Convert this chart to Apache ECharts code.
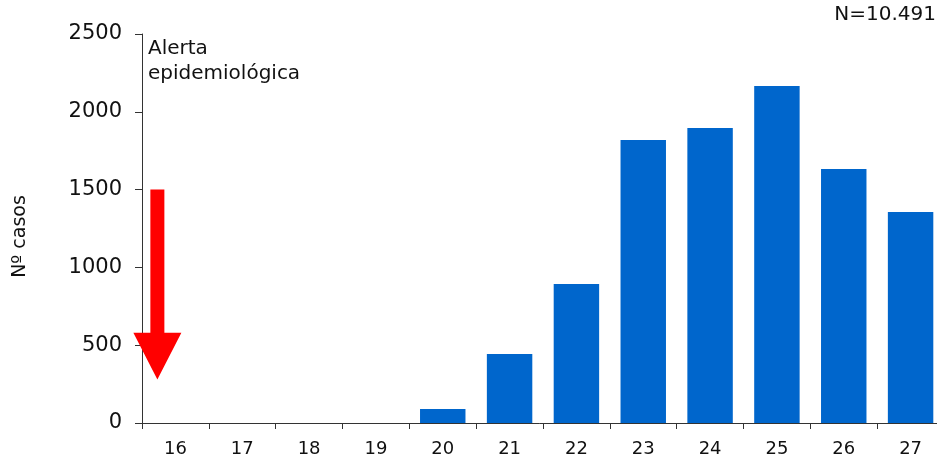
<!DOCTYPE html>
<html>
<head>
<meta charset="utf-8">
<script src="https://cdn.jsdelivr.net/npm/echarts@6/dist/echarts.min.js"></script>
<style>
html,body{margin:0;padding:0;background:#fff;}
#chart{width:937px;height:464px;}
</style>
</head>
<body>
<div id="chart"></div>
<script>
var categories = ['16','17','18','19','20','21','22','23','24','25','26','27'];
var casos = [0, 0, 0, 0, 90, 443, 893, 1819, 1896, 2166, 1632, 1356];
var yTicks = [0, 500, 1000, 1500, 2000, 2500];
// arrow: category index, shaft top, head base, tip
var arrowData = [[0, 1500, 580, 280]];
var alertText = 'Alerta\nepidemiológica';
var totalText = 'N=10.491';
var yName = 'Nº casos';

var FONT = 'DejaVu Sans';
var chart = echarts.init(document.getElementById('chart'), null, {renderer: 'canvas'});
chart.setOption({
  animation: false,
  backgroundColor: '#ffffff',
  textStyle: {fontFamily: FONT},
  title: [{
    text: totalText,
    right: 1, top: 5, padding: 0,
    textStyle: {fontFamily: FONT, fontSize: 20, fontWeight: 'normal', color: '#111'}
  }, {
    text: alertText,
    left: 148, top: 36, padding: 0,
    textStyle: {fontFamily: FONT, fontSize: 20, fontWeight: 'normal', color: '#111', lineHeight: 25}
  }],
  grid: {left: 142, width: 802, top: 34, bottom: 41, containLabel: false, outerBoundsMode: 'none'},
  xAxis: {
    type: 'category',
    data: categories,
    boundaryGap: true,
    axisLine: {show: true, lineStyle: {color: '#333', width: 1}},
    axisTick: {show: true, length: 6, alignWithLabel: false, lineStyle: {color: '#333'}},
    axisLabel: {fontFamily: FONT, fontSize: 18, color: '#111', margin: 17}
  },
  yAxis: {
    type: 'value',
    min: yTicks[0], max: yTicks[yTicks.length - 1], interval: yTicks[1] - yTicks[0],
    name: yName,
    nameLocation: 'middle',
    nameGap: 112,
    nameRotate: 90,
    nameTextStyle: {fontFamily: FONT, fontSize: 19, color: '#111', padding: [0, 16, 0, 0]},
    axisLine: {show: true, lineStyle: {color: '#333', width: 1}},
    axisTick: {show: true, length: 7, lineStyle: {color: '#333'}},
    splitLine: {show: false},
    axisLabel: {fontFamily: FONT, fontSize: 21, color: '#111', margin: 20,
      formatter: function (v) { return String(v); }}
  },
  series: [{
    type: 'bar',
    data: casos,
    barWidth: '68%',
    itemStyle: {color: '#0066CC'}
  }, {
    type: 'custom',
    data: arrowData,
    z: 10,
    renderItem: function (params, api) {
      var band = api.size([1, 0])[0];
      var x0 = api.coord([api.value(0), 0])[0] - 0.27 * band;
      var yTop = api.coord([0, api.value(1)])[1];
      var yBase = api.coord([0, api.value(2)])[1];
      var yTip = api.coord([0, api.value(3)])[1];
      var sw = 7, hw = 24;
      return {
        type: 'polygon',
        shape: {points: [
          [x0 - sw, yTop], [x0 + sw, yTop], [x0 + sw, yBase], [x0 + hw, yBase],
          [x0, yTip], [x0 - hw, yBase], [x0 - sw, yBase]
        ]},
        style: {fill: '#FF0000'}
      };
    }
  }]
});
</script>
</body>
</html>
